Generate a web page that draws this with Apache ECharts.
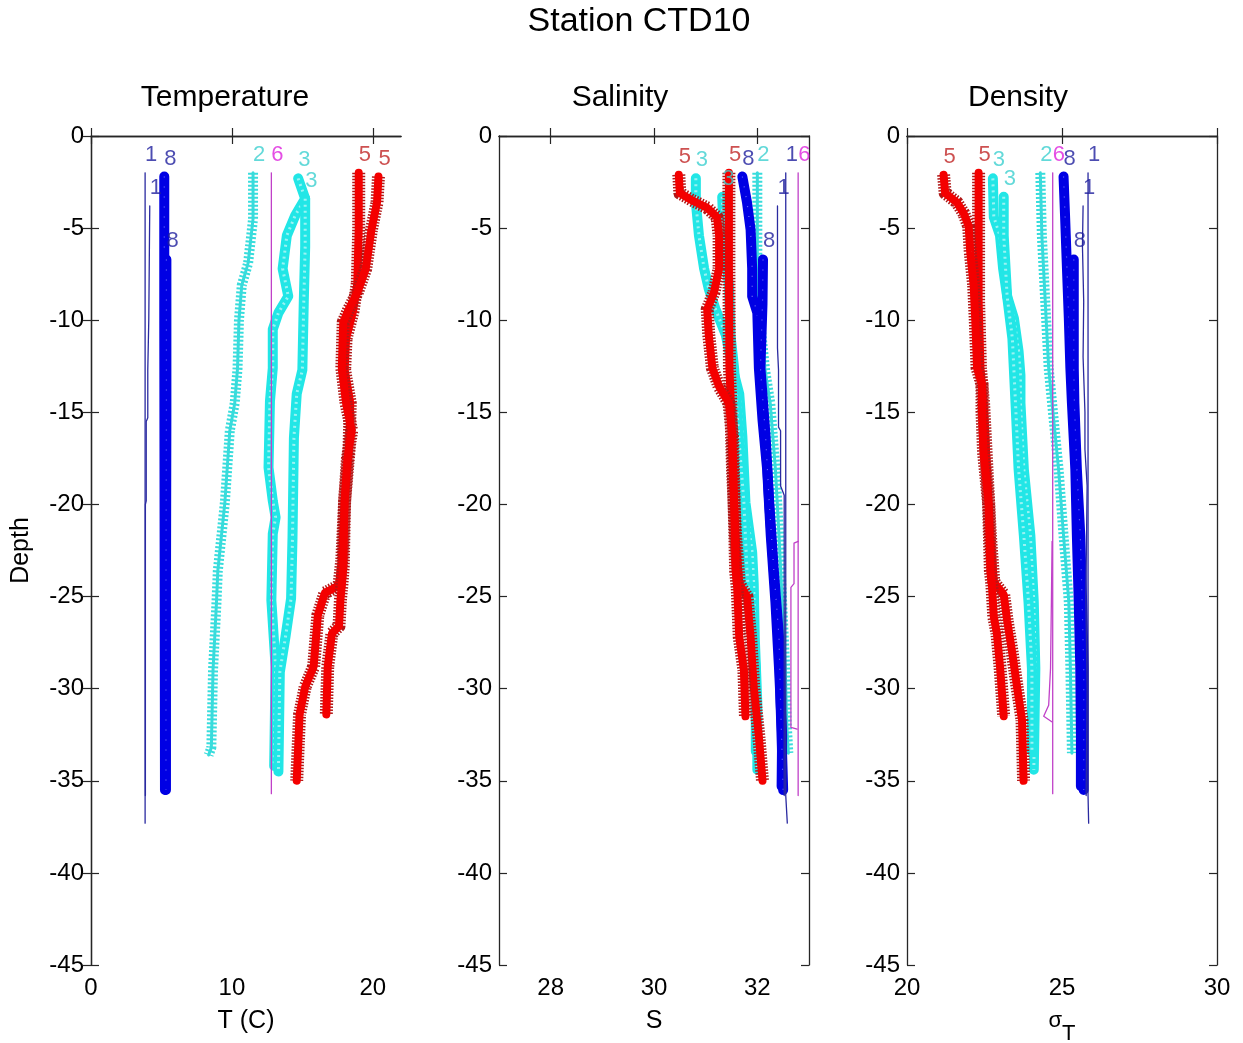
<!DOCTYPE html>
<html>
<head>
<meta charset="utf-8">
<script src="https://cdn.jsdelivr.net/npm/echarts@6/dist/echarts.min.js"></script>
<style>html,body{margin:0;padding:0;background:#fff}#chart{width:1243px;height:1043px}</style>
</head>
<body>
<div id="chart"></div>
<script>
// ---------- tick labels ----------
const depthTicks = [0, -5, -10, -15, -20, -25, -30, -35, -40, -45];
const tempTicks = [0, 10, 20];
const salTicks = [28, 30, 32];
const denTicks = [20, 25, 30];

// ---------- Temperature profiles [T, depth] ----------
const tempCast1a = [[3.84,-2.0],[3.84,-37.3]];
const tempCast1b = [[4.17,-3.8],[4.1,-10.0],[4.03,-12.7],[4.03,-15.3],[3.92,-15.5],[3.92,-19.8],[3.86,-20.0],[3.86,-35.8]];
const tempCast8a = [[5.2,-2.2],[5.2,-10.0],[5.22,-20.0],[5.25,-35.5]];
const tempCast8b = [[5.35,-6.7],[5.35,-15.0],[5.32,-25.0],[5.32,-35.5]];
const tempCast2 = [[11.5,-2.0],[11.5,-4.5],[11.15,-6.9],[10.7,-8.1],[10.5,-10.0],[10.4,-12.6],[10.2,-14.5],[9.85,-16.0],[9.5,-19.9],[9.0,-23.6],[8.9,-25.4],[8.66,-29.0],[8.54,-33.2],[8.35,-33.6]];
const tempCast6a = [[12.8,-2.0],[12.8,-35.7]];
const tempCast3a = [[14.7,-2.3],[15.2,-3.4],[14.5,-4.3],[13.9,-5.4],[13.6,-7.2],[14.0,-8.7],[13.3,-9.6],[12.9,-10.5],[12.9,-12.6],[12.7,-14.4],[12.6,-18.0],[12.9,-19.8],[13.1,-20.7],[12.9,-21.6],[12.8,-25.2],[13.1,-28.8],[13.0,-34.2]];
const tempCast3b = [[15.2,-3.4],[15.2,-6.0],[15.1,-9.0],[15.0,-12.7],[14.6,-14.0],[14.4,-16.4],[14.3,-21.8],[14.2,-25.1],[13.8,-27.2],[13.4,-29.1],[13.3,-34.5]];
const tempCast5a = [[19.0,-2.0],[19.0,-5.0],[18.9,-8.0],[18.6,-9.5],[18.1,-11.0],[18.0,-12.7],[18.4,-14.5],[18.3,-17.2],[18.0,-19.8],[17.8,-23.0],[17.6,-24.4],[16.6,-24.8],[16.1,-26.0],[15.8,-28.8],[15.2,-29.9],[14.8,-31.4],[14.6,-35.0]];
const tempCast5b = [[20.4,-2.2],[20.3,-3.6],[19.9,-5.1],[19.5,-7.2],[18.9,-8.5],[18.3,-9.4],[17.9,-10.1],[17.8,-12.6],[18.1,-14.5],[18.5,-16.0],[18.2,-17.5],[18.0,-19.8],[17.9,-23.4],[17.8,-24.4],[17.7,-25.2],[17.6,-26.6],[17.1,-27.0],[16.8,-28.8],[16.7,-31.4]];

// ---------- Salinity profiles [S, depth] ----------
const salCast1a = [[32.55,-2.0],[32.55,-35.8],[32.58,-37.3]];
const salCast1b = [[32.39,-3.8],[32.39,-11.5],[32.41,-12.7],[32.41,-15.8],[32.45,-16.0],[32.45,-19.0],[32.52,-19.5],[32.52,-35.8]];
const salCast8a = [[31.71,-2.2],[31.8,-3.6],[31.87,-5.1],[31.9,-7.2],[31.9,-8.7],[32.0,-9.6],[32.03,-12.6],[32.1,-15.4],[32.19,-18.1],[32.26,-21.7],[32.35,-25.3],[32.42,-28.9],[32.48,-32.5],[32.47,-35.3]];
const salCast8b = [[32.11,-6.7],[32.1,-9.1],[32.06,-12.6],[32.16,-16.3],[32.23,-19.9],[32.32,-23.6],[32.42,-27.2],[32.45,-30.8],[32.5,-35.5]];
const salCast2 = [[32.0,-2.0],[32.0,-7.6],[32.05,-10.0],[32.15,-12.7],[32.25,-14.5],[32.35,-18.1],[32.42,-21.7],[32.48,-25.3],[32.54,-28.9],[32.57,-32.0],[32.6,-33.5]];
const salCast6a = [[32.79,-2.0],[32.79,-35.8]];
const salCast6b = [[32.79,-22.0],[32.71,-22.1],[32.71,-24.3],[32.65,-24.5],[32.65,-32.1],[32.77,-32.2]];
const salCast3a = [[30.81,-2.3],[30.81,-3.6],[30.87,-5.4],[30.97,-7.2],[31.06,-8.3],[31.19,-9.4],[31.39,-10.8],[31.52,-12.6],[31.65,-14.0],[31.71,-16.3],[31.77,-19.9],[31.9,-22.6],[31.93,-24.3],[31.95,-27.2],[32.0,-30.8],[32.0,-34.4]];
const salCast3b = [[31.32,-3.3],[31.35,-5.4],[31.45,-8.1],[31.48,-10.8],[31.55,-12.6],[31.64,-16.3],[31.74,-19.9],[31.8,-23.6],[31.87,-26.3],[31.97,-28.9],[31.97,-33.4]];
const salCast5a = [[31.45,-2.0],[31.45,-7.2],[31.46,-12.6],[31.48,-14.0],[31.52,-18.1],[31.58,-21.7],[31.65,-24.3],[31.8,-25.0],[31.87,-27.2],[31.93,-29.9],[32.03,-32.6],[32.1,-35.0]];
const salCast5b = [[30.48,-2.1],[30.5,-3.1],[30.74,-3.5],[31.03,-3.9],[31.22,-4.4],[31.26,-5.4],[31.26,-7.2],[31.16,-8.5],[31.03,-9.4],[31.06,-10.8],[31.13,-12.6],[31.26,-13.6],[31.45,-14.5],[31.52,-16.3],[31.55,-19.9],[31.58,-23.6],[31.61,-24.5],[31.65,-27.2],[31.74,-29.0],[31.77,-31.5]];

// ---------- Density profiles [sigma_T, depth] ----------
const denCast1a = [[25.84,-2.0],[25.84,-35.8],[25.86,-37.3]];
const denCast1b = [[25.68,-3.8],[25.66,-6.0],[25.7,-9.0],[25.68,-12.0],[25.74,-15.0],[25.74,-17.0],[25.81,-19.0],[25.77,-25.0],[25.81,-30.0],[25.78,-35.8]];
const denCast8a = [[25.05,-2.2],[25.1,-4.4],[25.16,-7.2],[25.22,-9.9],[25.27,-12.6],[25.32,-14.5],[25.43,-18.1],[25.48,-21.7],[25.54,-25.3],[25.59,-28.9],[25.61,-32.5],[25.61,-35.3]];
const denCast8b = [[25.38,-6.7],[25.38,-12.6],[25.4,-14.5],[25.48,-18.1],[25.59,-21.7],[25.65,-25.3],[25.7,-28.9],[25.7,-35.5]];
const denCast2 = [[24.3,-2.0],[24.35,-5.4],[24.46,-9.0],[24.57,-12.6],[24.68,-14.5],[24.89,-18.1],[25.05,-21.7],[25.22,-25.3],[25.27,-28.9],[25.32,-33.5]];
const denCast6a = [[24.7,-2.0],[24.7,-35.7]];
const denCast6b = [[24.68,-22.0],[24.66,-25.0],[24.63,-28.9],[24.57,-30.9],[24.41,-31.5],[24.67,-31.8]];
const denCast3a = [[22.77,-2.3],[22.8,-4.4],[23.0,-5.4],[23.1,-7.2],[23.23,-8.7],[23.45,-9.9],[23.6,-11.7],[23.66,-13.0],[23.66,-14.5],[23.77,-18.1],[23.98,-21.7],[24.09,-25.3],[24.14,-28.9],[24.09,-34.4]];
const denCast3b = [[23.12,-3.3],[23.12,-5.4],[23.23,-8.7],[23.4,-11.0],[23.5,-14.5],[23.6,-18.1],[23.77,-21.7],[23.92,-25.3],[24.03,-28.9],[24.03,-33.4]];
const denCast5a = [[22.31,-2.0],[22.31,-9.0],[22.37,-12.6],[22.47,-14.5],[22.58,-18.1],[22.69,-21.7],[22.8,-24.2],[23.12,-24.9],[23.23,-26.3],[23.39,-28.0],[23.55,-29.9],[23.71,-31.7],[23.76,-35.0]];
const denCast5b = [[21.18,-2.1],[21.23,-3.1],[21.61,-3.6],[21.83,-4.2],[21.99,-4.9],[22.04,-6.3],[22.15,-8.1],[22.2,-9.9],[22.26,-12.6],[22.42,-13.5],[22.42,-15.0],[22.47,-17.2],[22.63,-19.9],[22.69,-23.6],[22.74,-24.4],[22.8,-26.1],[22.9,-27.0],[23.0,-28.8],[23.12,-31.5]];

// ---------- build ----------
const FONT = '"Liberation Sans", Arial, Helvetica, sans-serif';
const AX = '#262626';
const labelColor = { '1': '#1f1f9e', '8': '#1f1f9e', '2': '#3ccfcf', '3': '#3ccfcf', '6': '#dd22dd', '5': '#c02626' };

function traceList(p) {
  return [
    { cast: '2', style: 'plus', data: p.c2, label: true },
    { cast: '3', style: 'circle', data: p.c3a, label: true },
    { cast: '3', style: 'circle', data: p.c3b, label: true },
    { cast: '5', style: 'star', data: p.c5a, label: true },
    { cast: '5', style: 'star', data: p.c5b, label: true },
    { cast: '8', style: 'square', data: p.c8a, label: true },
    { cast: '8', style: 'square', data: p.c8b, label: true },
    { cast: '1', style: 'thin1', data: p.c1a, label: true },
    { cast: '1', style: 'thin1', data: p.c1b, label: true },
    { cast: '6', style: 'thin6', data: p.c6a, label: true },
    { cast: '6', style: 'thin6', data: p.c6b, label: false }
  ].filter(t => t.data);
}

const panels = [
  { title: 'Temperature', titleX: 225, left: 91, min: 0, max: 22, ticks: tempTicks, axisName: 'T (C)',
    c1a: tempCast1a, c1b: tempCast1b, c8a: tempCast8a, c8b: tempCast8b, c2: tempCast2, c6a: tempCast6a,
    c3a: tempCast3a, c3b: tempCast3b, c5a: tempCast5a, c5b: tempCast5b },
  { title: 'Salinity', titleX: 620, left: 499, min: 27, max: 33, ticks: salTicks, axisName: 'S',
    c1a: salCast1a, c1b: salCast1b, c8a: salCast8a, c8b: salCast8b, c2: salCast2, c6a: salCast6a, c6b: salCast6b,
    c3a: salCast3a, c3b: salCast3b, c5a: salCast5a, c5b: salCast5b },
  { title: 'Density', titleX: 1018, left: 907, min: 20, max: 30, ticks: denTicks, axisName: '{s|σ}{t|T}',
    c1a: denCast1a, c1b: denCast1b, c8a: denCast8a, c8b: denCast8b, c2: denCast2, c6a: denCast6a, c6b: denCast6b,
    c3a: denCast3a, c3b: denCast3b, c5a: denCast5a, c5b: denCast5b }
];

const GTOP = 136, GW = 310, GH = 829;
const grid = [], xAxis = [], yAxis = [], series = [], graphic = [];

graphic.push({ type: 'text', x: 639, y: 22, style: { text: 'Station CTD10', font: '34px ' + FONT, fill: '#000', align: 'center', verticalAlign: 'middle' } });

panels.forEach((p, i) => {
  grid.push({ left: p.left, top: GTOP, width: GW, height: GH, containLabel: false, outerBoundsMode: 'none' });
  graphic.push({ type: 'text', x: p.titleX, y: 98, style: { text: p.title, font: '30px ' + FONT, fill: '#000', align: 'center', verticalAlign: 'middle' } });

  const lineStyleAx = { show: true, lineStyle: { color: AX, width: 1.3 } };
  const tickIn = { show: true, inside: true, length: 8, lineStyle: { color: AX, width: 1.2 } };
  xAxis.push({
    gridIndex: i, type: 'value', position: 'bottom', min: p.min, max: p.max,
    axisLine: lineStyleAx, splitLine: { show: false },
    axisTick: Object.assign({}, tickIn, { customValues: p.ticks }),
    axisLabel: { customValues: p.ticks, fontSize: 24, fontFamily: FONT, color: '#000', margin: 11 },
    name: p.axisName, nameLocation: 'middle', nameGap: 44,
    nameTextStyle: { fontSize: 25, fontFamily: FONT, color: '#000',
      rich: { s: { fontSize: 22, fontFamily: FONT, color: '#000', padding: [0, 0, 12, 0] },
              t: { fontSize: 22, fontFamily: FONT, color: '#000', padding: [14, 0, 0, 0] } } }
  });
  xAxis.push({
    gridIndex: i, type: 'value', position: 'top', min: p.min, max: p.max,
    axisLine: lineStyleAx, splitLine: { show: false },
    axisTick: Object.assign({}, tickIn, { customValues: p.ticks }),
    axisLabel: { show: false, customValues: p.ticks }
  });
  yAxis.push({
    gridIndex: i, type: 'value', position: 'left', min: -45, max: 0,
    axisLine: lineStyleAx, splitLine: { show: false },
    axisTick: Object.assign({}, tickIn, { customValues: depthTicks }),
    axisLabel: { customValues: depthTicks, fontSize: 24, fontFamily: FONT, color: '#000', margin: 7 },
    name: i === 0 ? 'Depth' : '', nameLocation: 'middle', nameGap: 57, nameRotate: 90,
    nameTextStyle: { fontSize: 25, fontFamily: FONT, color: '#000' }
  });
  yAxis.push({
    gridIndex: i, type: 'value', position: 'right', min: -45, max: 0,
    axisLine: lineStyleAx, splitLine: { show: false },
    axisTick: Object.assign({}, tickIn, { customValues: depthTicks }),
    axisLabel: { show: false, customValues: depthTicks }
  });

  const xi = 2 * i, yi = 2 * i;
  const base = { type: 'line', xAxisIndex: xi, yAxisIndex: yi, showSymbol: false, symbol: 'none', silent: true, animation: false, clip: true };
  const labelData = [];
  traceList(p).forEach(t => {
    const d = t.data;
    const mk = (ls) => series.push(Object.assign({}, base, { data: d, lineStyle: Object.assign({ join: 'round', cap: 'round' }, ls) }));
    if (t.style === 'thin1') mk({ color: '#2a2aa0', width: 1.3 });
    else if (t.style === 'thin6') mk({ color: '#c040c8', width: 1.3 });
    else if (t.style === 'square') { mk({ color: '#0000e4', width: 10 }); mk({ color: '#6f6ff5', width: 1.2, type: [1, 9], cap: 'butt' }); }
    else if (t.style === 'plus') { mk({ color: '#38dcdc', width: 3 }); mk({ color: '#38dcdc', width: 10, type: [2, 2], cap: 'butt' }); }
    else if (t.style === 'circle') { mk({ color: '#22e6e6', width: 10 }); mk({ color: '#9af3f3', width: 3, type: [2, 4], cap: 'butt' }); }
    else if (t.style === 'star') { mk({ color: '#b01818', width: 13, type: [1.5, 1.5], cap: 'butt' }); mk({ color: '#f40000', width: 8 }); }
    if (t.label) labelData.push({ value: d[0], label: { formatter: t.cast, color: labelColor[t.cast] } });
  });
  series.push({
    type: 'scatter', xAxisIndex: xi, yAxisIndex: yi, symbolSize: 0, silent: true, animation: false, z: 10,
    data: labelData,
    label: { show: true, position: 'right', distance: 0, offset: [0, -18], fontSize: 22, fontFamily: FONT }
  });
});

const chart = echarts.init(document.getElementById('chart'), null, { renderer: 'canvas' });
chart.setOption({ backgroundColor: '#fff', animation: false, grid, xAxis, yAxis, series, graphic });
</script>
</body>
</html>
